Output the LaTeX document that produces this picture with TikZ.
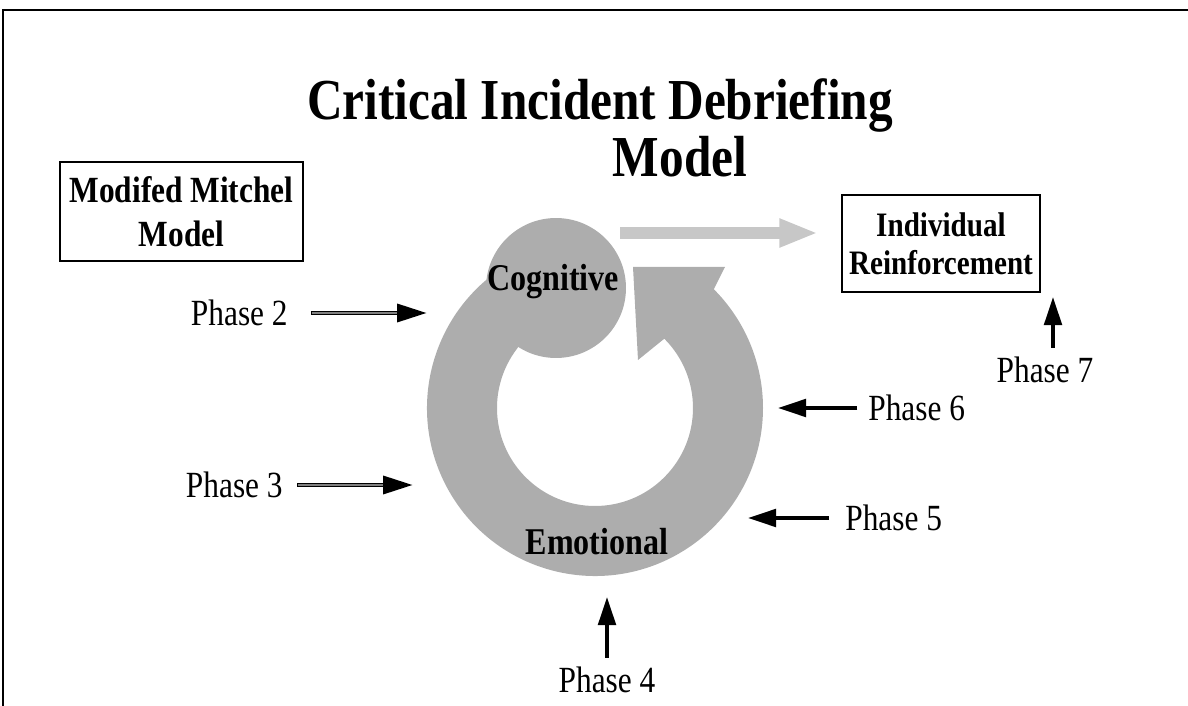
\documentclass[tikz,border=0pt]{standalone}
\usepackage{fontspec}
\setmainfont{Liberation Serif}[FakeStretch=0.85]
\usetikzlibrary{positioning}
\usetikzlibrary{arrows.meta}
\definecolor{ringgray}{gray}{0.68}
\definecolor{flowgray}{gray}{0.78}
\tikzset{
node distance = 2em and 2em,
   box/.style = {%
    shape=rectangle,
    draw=black,
    line width=0.8pt,
    align=center,
    inner sep=0pt},
 phase/.style = {%
    inner sep=0pt,
    font=\fontsize{21}{21}\selectfont},
  blob/.style = {%
    inner sep=0pt,
    font=\fontsize{21.5}{21.5}\selectfont\bfseries},
 arrow/.style = {%
    draw=black,
    line width=2pt,
    -{Triangle[length=16pt,width=10pt]}},
 dblarrow/.style = {%
    draw=black,
    line width=2.6pt,
    -{Triangle[length=17pt,width=10pt]}},
 dblcore/.style = {%
    draw=gray,
    line width=0.9pt,
    shorten >=17pt},
    }

\begin{document}
\begin{tikzpicture}[x=0.02cm,y=0.02cm]
    \useasboundingbox (0,0) rectangle (1188,-706);
    % frame
    \draw[line width=1.1pt] (3,-706) -- (3,-10) -- (1188,-10);

    % title
    \node[font=\fontsize{33}{33}\selectfont\bfseries, inner sep=0pt] (title1) at (600,-105) {Critical Incident Debriefing};
    \node[font=\fontsize{33}{33}\selectfont\bfseries, inner sep=0pt] (title2) at (680,-157) {Model};

    % boxes
    \node[box, minimum width=4.86cm, minimum height=1.98cm, font=\fontsize{21}{25}\selectfont\bfseries] (mitchel) at (181.5,-211.5) {Modifed Mitchel\\Model};
    \node[box, minimum width=3.96cm, minimum height=1.94cm, font=\fontsize{19.5}{21.5}\selectfont\bfseries] (indiv) at (941,-243.5) {Individual\\Reinforcement};

    % ring with head
    \fill[ringgray] ([shift={(595,-408)}]120:168) arc[start angle=120, end angle=405, radius=168]
        -- (725,-267) -- (633,-267) -- (638,-360)
        -- ([shift={(595,-408)}]45:98) arc[start angle=405, end angle=120, radius=98] -- cycle;
    \node[circle, fill=ringgray, minimum size=2.8cm, inner sep=0pt] (cogcircle) at (556,-288) {};
    \node[blob] (cog) at (553,-282) {Cognitive};
    \node[blob] (emo) at (597,-542) {Emotional};

    % flow to reinforcement
    \coordinate (flowstart) at (620,-233);
    \coordinate (flowend) at (818,-233);
    \draw[flowgray, line width=6.8pt, -{Triangle[length=22pt,width=15pt]}] (flowstart) -- (flowend);

    % phases
    \node[phase, anchor=east] (ph2) at (288,-313) {Phase 2};
    \node[phase, anchor=east] (ph3) at (283,-485) {Phase 3};
    \node[phase] (ph4) at (607,-680) {Phase 4};
    \node[phase, anchor=west] (ph5) at (845,-518) {Phase 5};
    \node[phase, anchor=west] (ph6) at (868,-408) {Phase 6};
    \node[phase] (ph7) at (1045,-370) {Phase 7};

    \coordinate (t2) at (427,-313);
    \coordinate (t3) at (413,-485);
    \coordinate (t4) at (607,-597);
    \coordinate (t5) at (748,-518);
    \coordinate (t6) at (778,-408);
    \coordinate (t7) at (1053,-297);

    \draw[dblarrow, shorten <=13pt] (ph2.east) -- (t2);
    \draw[dblcore, shorten <=13.5pt] (ph2.east) -- (t2);
    \draw[dblarrow, shorten <=8pt] (ph3.east) -- (t3);
    \draw[dblcore, shorten <=8.5pt] (ph3.east) -- (t3);
    \draw[arrow, shorten <=5pt] (ph4.north) -- (t4);
    \draw[arrow, shorten <=9pt] (ph5.west) -- (t5);
    \draw[arrow, shorten <=6pt] (ph6.west) -- (t6);
    \draw[arrow, shorten <=5pt] (ph7.north -| t7) -- (t7);
\end{tikzpicture}
\end{document}
